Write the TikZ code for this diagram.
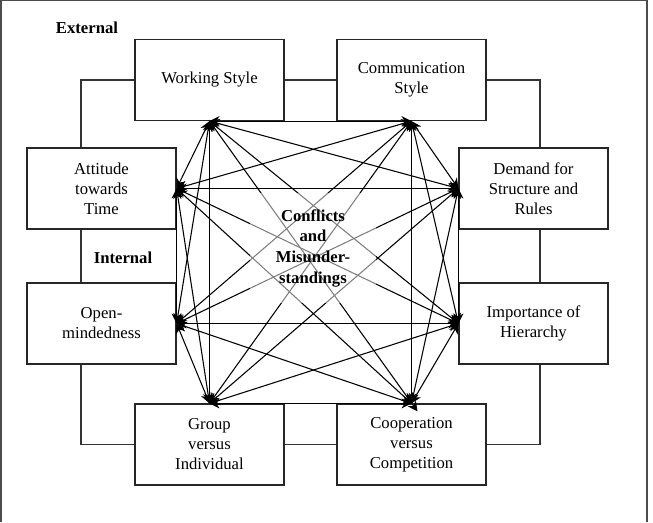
\documentclass[tikz,border=0pt]{standalone}
\usepackage{fontspec}
\setmainfont{Liberation Serif}
\usetikzlibrary{arrows.meta}

\begin{document}
\begin{tikzpicture}[x=0.75pt,y=-0.75pt,>={Stealth[length=7.5pt,width=7.5pt]},thick,
    factor/.style={rectangle,draw=black!85,fill=white,line width=0.9pt,minimum width=111.75pt,minimum height=60.75pt,align=center,inner sep=2pt,font=\fontsize{12.5}{15}\selectfont},
    ring/.style={draw=black!80,line width=0.8pt},
    link/.style={<->,line width=0.8pt},
    heading/.style={font=\fontsize{12.5}{15.5}\selectfont\bfseries}]

                    \useasboundingbox (0,0) rectangle (653,522);
                    \draw[black!70,line width=0.8pt] (1,522) -- (1,0.5) -- (647,0.5) -- (647,522);

                    \node[factor] (ws) at (209.5,80) {Working Style};
                    \node[factor] (cs) at (411.5,80) {Communication\\Style};
                    \node[factor] (att) at (101.5,188.5) {Attitude\\towards\\Time};
                    \node[factor] (dem) at (533.5,188.5) {Demand for\\Structure and\\Rules};
                    \node[factor] (om) at (101.5,323.5) {Open-\\mindedness};
                    \node[factor] (imp) at (533.5,323.5) {Importance of\\Hierarchy};
                    \node[factor] (grp) at (209.5,444.5) {Group\\versus\\Individual};
                    \node[factor] (coop) at (411.5,444.5) {Cooperation\\versus\\Competition};

                    \node[heading,anchor=west] (ext) at (51,28) {External};
                    \node[heading] (int) at (123,258) {Internal};

                    % ring round the eight factors
                    \coordinate (rl) at (81,0);
                    \coordinate (rr) at (540,0);
                    \draw[ring] (ws.west) -| (rl |- att.north);
                    \draw[ring] (rl |- att.south) -- (rl |- om.north);
                    \draw[ring] (rl |- om.south) |- (grp.west);
                    \draw[ring] (grp.east) -- (coop.west);
                    \draw[ring] (coop.east) -| (rr |- imp.south);
                    \draw[ring] (rr |- imp.north) -- (rr |- dem.south);
                    \draw[ring] (rr |- dem.north) |- (cs.east);
                    \draw[ring] (cs.west) -- (ws.east);

                    \coordinate (coopin) at ([shift={(6,8)}]coop.north);

                    \draw[link] (ws.south) to (cs.south);
                    \draw[link] (ws.south) to (att.east);
                    \draw[link] (ws.south) to (dem.west);
                    \draw[link] (ws.south) to (om.east);
                    \draw[link] (ws.south) to (imp.west);
                    \draw[link] (ws.south) to (grp.north);
                    \draw[link] (ws.south) to (coopin);
                    \draw[link] (cs.south) to (att.east);
                    \draw[link] (cs.south) to (dem.west);
                    \draw[link] (cs.south) to (om.east);
                    \draw[link] (cs.south) to (imp.west);
                    \draw[link] (cs.south) to (grp.north);
                    \draw[link] (cs.south) to (coop.north);
                    \draw[link] (att.east) to (dem.west);
                    \draw[link] (att.east) to (om.east);
                    \draw[link] (att.east) to (imp.west);
                    \draw[link] (att.east) to (grp.north);
                    \draw[link] (att.east) to (coop.north);
                    \draw[link] (dem.west) to (om.east);
                    \draw[link] (dem.west) to (imp.west);
                    \draw[link] (dem.west) to (grp.north);
                    \draw[link] (dem.west) to (coop.north);
                    \draw[link] (om.east) to (imp.west);
                    \draw[link] (om.east) to (grp.north);
                    \draw[link] (om.east) to (coop.north);
                    \draw[link] (imp.west) to (grp.north);
                    \draw[link] (imp.west) to (coop.north);
                    \draw[link] (grp.north) to (coop.north);

                    \node[heading,align=center,fill=white,fill opacity=0.5,text opacity=1,minimum width=94pt,minimum height=82pt] (conf) at (313,248) {Conflicts\\and\\Misunder-\\standings};

                    ;
                \end{tikzpicture}
\end{document}
